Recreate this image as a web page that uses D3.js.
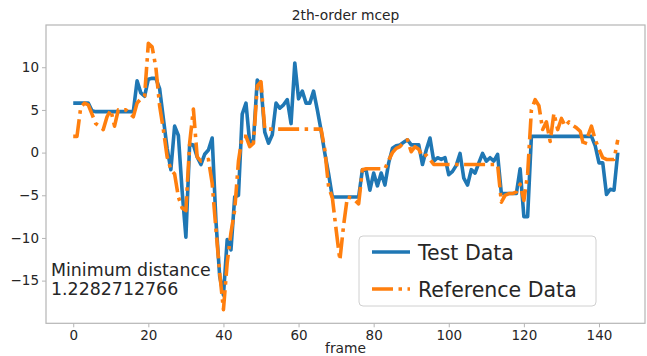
<!DOCTYPE html>
<html>
<head>
<meta charset="utf-8">
<script src="https://cdn.jsdelivr.net/npm/d3@7"></script>
<style>
  html, body { margin: 0; padding: 0; background: #fff; }
  svg { display: block; }
  text { font-family: "DejaVu Sans", sans-serif; }
</style>
</head>
<body>
<svg id="chart" width="647" height="356"></svg>
<script>
const title = "2th-order mcep";
const xLabel = "frame";
const seriesNames = ["Test Data", "Reference Data"];
const annotation = ["Minimum distance", "1.2282712766"];
const xTicks = [0, 20, 40, 60, 80, 100, 120, 140];
const yTicks = [-15, -10, -5, 0, 5, 10];

const testData = [
  5.8, 5.8, 5.8, 5.8, 5.8, 4.9, 4.8, 4.8, 4.8, 4.8,
  4.8, 4.8, 4.8, 4.8, 4.8, 4.8, 4.8, 8.4, 7.0, 6.6,
  8.6, 8.7, 8.7, 7.5, 4.0, 0.5, -2.0, 3.1, 2.0, -4.5,
  -9.9, 1.0, 0.9, -0.5, -1.4, -0.2, 0.3, 1.7, -8.0, -14.5,
  -16.7, -10.2, -11.4, -5.2, -5.0, 4.5, 5.8, 1.1, 1.5, 8.5,
  7.8, 2.4, 1.1, 2.1, 5.8, 5.2, 5.6, 6.2, 3.4, 10.5,
  6.3, 7.2, 5.8, 5.8, 7.2, 5.0, 2.6, -0.1, -2.5, -5.2,
  -5.2, -5.2, -5.2, -5.2, -5.2, -5.2, -5.2, -2.0, -2.1, -4.4,
  -2.4, -3.9, -2.4, -3.8, -1.2, 0.5, 0.8, 0.9, 1.2, 1.5,
  0.9, 0.9, 0.9, -1.4, 0.3, 1.7, -1.0, -0.6, -0.8, -0.6,
  -2.6, -2.2, -1.5, -0.1, -3.0, -3.8, -2.0, -2.4, -1.2, -0.1,
  -1.0, -0.6, -1.0, -0.2, -4.8, -4.8, -4.8, -4.8, -4.8, -1.9,
  -7.5, -7.5, 1.9, 1.9, 1.9, 1.9, 1.9, 1.9, 1.9, 1.9,
  1.9, 1.9, 1.9, 1.9, 1.9, 1.9, 1.9, 1.9, 1.9, 0.8,
  -1.2, -1.2, -4.9, -4.3, -4.4, 0.0
];

const referenceData = [
  1.9, 1.9, 5.3, 5.8, 5.6, 4.5, 3.4, 3.1, 2.7, 4.2,
  5.0, 3.1, 5.0, 5.0, 5.0, 4.6, 4.2, 5.8, 6.3, 6.6,
  12.8, 12.4, 10.0, 5.5, 2.7, -0.5, -2.0, -2.5, -5.2, -6.5,
  -6.8, 1.1, 5.1, -0.5, -1.0, -1.0, -0.8, -3.6, -9.0, -14.1,
  -18.4, -12.9, -9.4, -6.7, -1.0, 1.9, 1.9, 0.7, 1.1, 7.8,
  8.3, 2.75, 2.75, 2.75, 2.75, 2.75, 2.75, 2.75, 2.75, 2.75,
  2.75, 2.75, 2.75, 2.75, 2.75, 2.75, 2.75, 0.3, -4.0, -5.3,
  -9.0, -12.6, -8.5, -5.2, -5.3, -5.6, -6.0, -2.0, -1.9, -1.9,
  -1.9, -1.9, -1.9, -1.9, -0.9, 0.0, 0.5, 0.7, 1.2, 1.5,
  0.1, 0.7, 0.4, -0.5, -0.3, -0.8, -1.4, -1.4, -1.4, -1.4,
  -1.4, -1.4, -1.4, -1.4, -1.4, -1.4, -1.4, -1.4, -1.4, -1.4,
  -1.4, -1.4, -1.4, -1.4, -5.8, -5.0, -4.8, -4.8, -4.6, -3.7,
  -5.6, -2.5, 5.0, 6.2, 5.5, 2.7, 3.6, 1.3, 4.6, 2.7,
  4.0, 3.1, 3.6, 3.2, 2.9, 2.5, 0.7, 1.9, 3.1, 1.5,
  0.4, -0.6, -0.8, -0.8, -0.8, 1.5
];

const colors = ["#1f77b4", "#ff7f0e"];

(function () {
const svg = d3.select("#chart");
const mLeft = 46, mRight = 645, mTop = 25, mBottom = 323.3;

const x = d3.scaleLinear().domain([-7.25, 152.25]).range([mLeft, mRight]);
const y = d3.scaleLinear().domain([-20.0, 14.95]).range([mBottom, mTop]);

svg.append("defs").append("clipPath").attr("id", "clip")
  .append("rect").attr("x", mLeft).attr("y", mTop)
  .attr("width", mRight - mLeft).attr("height", mBottom - mTop);

const line = d3.line().x((d, i) => x(i)).y(d => y(d));

const plot = svg.append("g").attr("clip-path", "url(#clip)");
plot.append("path").datum(testData)
  .attr("d", line).attr("fill", "none")
  .attr("stroke", colors[0]).attr("stroke-width", 3.6)
  .attr("stroke-linejoin", "round");
plot.append("path").datum(referenceData)
  .attr("d", line).attr("fill", "none")
  .attr("stroke", colors[1]).attr("stroke-width", 3.6)
  .attr("stroke-dasharray", "21,5.5,3.5,5.5")
  .attr("stroke-linejoin", "round");

const axisColor = "#b5b5b5";
const xAxis = svg.append("g").attr("transform", `translate(0,${mBottom})`)
  .call(d3.axisBottom(x).tickValues(xTicks).tickSize(4).tickPadding(3).tickFormat(d3.format("d")));
const yAxis = svg.append("g").attr("transform", `translate(${mLeft},0)`)
  .call(d3.axisLeft(y).tickValues(yTicks).tickSize(4).tickPadding(3)
    .tickFormat(d => d < 0 ? "\u2212" + Math.abs(d) : String(d)));
[xAxis, yAxis].forEach(g => {
  g.select(".domain").remove();
  g.selectAll(".tick line").attr("stroke", axisColor);
  g.selectAll(".tick text").attr("fill", "#262626")
    .style("font-size", "13.5px").style("font-family", "DejaVu Sans");
});

svg.append("rect").attr("x", mLeft).attr("y", mTop)
  .attr("width", mRight - mLeft).attr("height", mBottom - mTop)
  .attr("fill", "none").attr("stroke", axisColor).attr("stroke-width", 1.2);

svg.append("text").attr("x", (mLeft + mRight) / 2).attr("y", 20)
  .attr("text-anchor", "middle").style("font-size", "13.8px").attr("fill", "#262626")
  .text(title);

svg.append("text").attr("x", (mLeft + mRight) / 2).attr("y", 353)
  .attr("text-anchor", "middle").style("font-size", "13.8px").attr("fill", "#262626")
  .text(xLabel);

svg.append("text").attr("x", 51).attr("y", 276)
  .style("font-size", "17.4px").attr("fill", "#262626").text(annotation[0]);
svg.append("text").attr("x", 51).attr("y", 295)
  .style("font-size", "17.4px").attr("fill", "#262626").text(annotation[1]);

const lg = svg.append("g");
lg.append("rect").attr("x", 359).attr("y", 236).attr("width", 237).attr("height", 70)
  .attr("rx", 4).attr("fill", "#fff").attr("fill-opacity", 0.85)
  .attr("stroke", "#d0d0d0").attr("stroke-width", 1);
seriesNames.forEach((name, i) => {
  const yy = 252 + i * 37;
  const l = lg.append("line").attr("x1", 372).attr("x2", 410)
    .attr("y1", yy).attr("y2", yy).attr("stroke", colors[i]).attr("stroke-width", 3.6);
  if (i === 1) l.attr("stroke-dasharray", "21,5.5,3.5,5.5");
  lg.append("text").attr("x", 418).attr("y", yy + 7.5)
    .style("font-size", "20.5px").attr("fill", "#262626").text(name);
});
})();
</script>
</body>
</html>
